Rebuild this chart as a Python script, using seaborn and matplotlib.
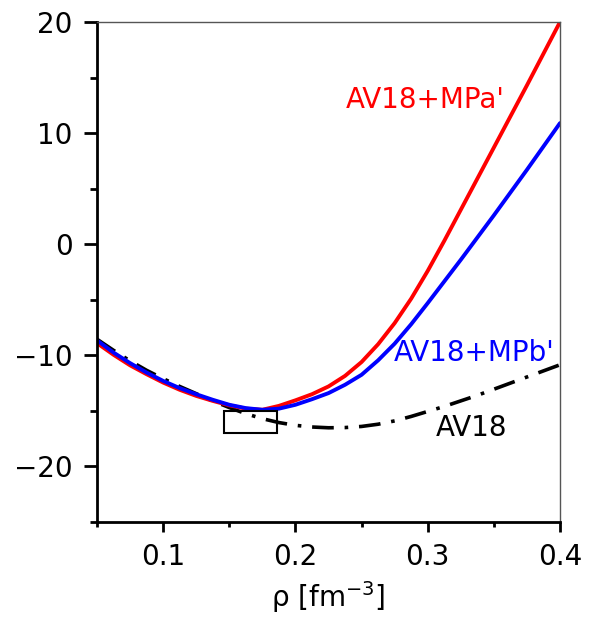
import numpy as np
import pandas as pd
import matplotlib
matplotlib.use("Agg")
import matplotlib.pyplot as plt
from matplotlib.ticker import MultipleLocator
from matplotlib.patches import Rectangle
import seaborn as sns

# Density grid [fm^-3]
rho = [0.05, 0.0625, 0.075, 0.0875, 0.1, 0.1125, 0.125, 0.1375, 0.15,
       0.1625, 0.175, 0.1875, 0.2, 0.2125, 0.225, 0.2375, 0.25, 0.2625,
       0.275, 0.2875, 0.3, 0.3125, 0.325, 0.3375, 0.35, 0.3625, 0.375,
       0.3875, 0.4]

# Energy per nucleon [MeV] for each interaction
e_av18 = [-8.55, -9.55, -10.5, -11.35, -12.1, -12.8, -13.45, -14.1, -14.7,
          -15.25, -15.7, -16.05, -16.3, -16.45, -16.52, -16.5, -16.4, -16.2,
          -15.9, -15.5, -15.05, -14.6, -14.1, -13.6, -13.05, -12.5, -11.95,
          -11.4, -10.85]
e_mpa = [-8.9, -9.95, -10.9, -11.7, -12.45, -13.1, -13.65, -14.1, -14.5,
         -14.8, -14.9, -14.55, -14.05, -13.5, -12.8, -11.85, -10.6, -9.0,
         -7.1, -4.9, -2.4, 0.3, 3.1, 5.9, 8.7, 11.5, 14.3, 17.15, 20.0]
e_mpb = [-8.65, -9.75, -10.7, -11.55, -12.3, -12.95, -13.5, -14.0, -14.45,
         -14.75, -14.9, -14.8, -14.45, -13.95, -13.4, -12.65, -11.75, -10.45,
         -8.95, -7.2, -5.3, -3.35, -1.4, 0.6, 2.6, 4.65, 6.7, 8.8, 10.9]

series_names = ["AV18", "AV18+MPa'", "AV18+MPb'"]
series_colors = ["black", "#ff0000", "#0000ff"]

x_ticks = [0.1, 0.2, 0.3, 0.4]
y_ticks = [-20, -10, 0, 10, 20]

df = pd.DataFrame({
    "rho": rho * 3,
    "E": e_av18 + e_mpa + e_mpb,
    "model": [n for n in series_names for _ in rho],
})

sns.set_style("ticks")
plt.rcParams["font.family"] = ["DejaVu Sans"]

fig = plt.figure(figsize=(5.97, 6.27), dpi=100)
ax = fig.add_axes([97 / 597, 1 - 522 / 627, (560 - 97) / 597, (522 - 22) / 627])

# Bare AV18: dash-dot curve
sns.lineplot(data=df[df.model == "AV18"], x="rho", y="E", ax=ax,
             color=series_colors[0], lw=2.6, linestyle=(0, (6, 3, 1, 3)),
             errorbar=None, sort=False, legend=False)
# With three-body forces
sns.lineplot(data=df[df.model == "AV18+MPa'"], x="rho", y="E", ax=ax,
             color=series_colors[1], lw=2.8, errorbar=None, sort=False,
             legend=False)
sns.lineplot(data=df[df.model == "AV18+MPb'"], x="rho", y="E", ax=ax,
             color=series_colors[2], lw=2.8, errorbar=None, sort=False,
             legend=False)

# Empirical saturation region
ax.add_patch(Rectangle((0.146, -17.0), 0.04, 1.95, fill=False,
                       edgecolor="black", lw=1.5, zorder=5))

ax.text(0.298, 13.0, "AV18+MPa'", color=series_colors[1], fontsize=20,
        ha="center", va="center")
ax.text(0.335, -9.75, "AV18+MPb'", color=series_colors[2], fontsize=20,
        ha="center", va="center")
ax.text(0.333, -16.5, "AV18", color=series_colors[0], fontsize=20,
        ha="center", va="center")

ax.set_xlim(0.05, 0.4)
ax.set_ylim(-25, 20)
ax.xaxis.set_minor_locator(MultipleLocator(0.05))
ax.yaxis.set_minor_locator(MultipleLocator(5))
ax.set_xticks(x_ticks)
ax.set_yticks(y_ticks)
ax.set_xticklabels([f"{v:g}" for v in x_ticks])
ax.set_yticklabels([f"{v:d}".replace("-", "\u2212") for v in y_ticks])

ax.tick_params(axis="both", which="both", direction="out", width=2,
               color="black", labelcolor="black", labelsize=20)
ax.tick_params(axis="x", which="major", length=7.2, pad=8)
ax.tick_params(axis="x", which="minor", length=3.6)
ax.tick_params(axis="y", which="major", length=9.6, pad=8)
ax.tick_params(axis="y", which="minor", length=4.8)

for side in ["left", "bottom"]:
    ax.spines[side].set_linewidth(2)
    ax.spines[side].set_color("black")
for side in ["top", "right"]:
    ax.spines[side].set_visible(True)
    ax.spines[side].set_linewidth(1.0)
    ax.spines[side].set_color("#555555")

ax.set_xlabel(r"$\mathregular{\rho\ [fm^{-3}]}$", fontsize=20, labelpad=6,
              color="black")
ax.set_ylabel("")

fig.savefig("out.png", dpi=100)
